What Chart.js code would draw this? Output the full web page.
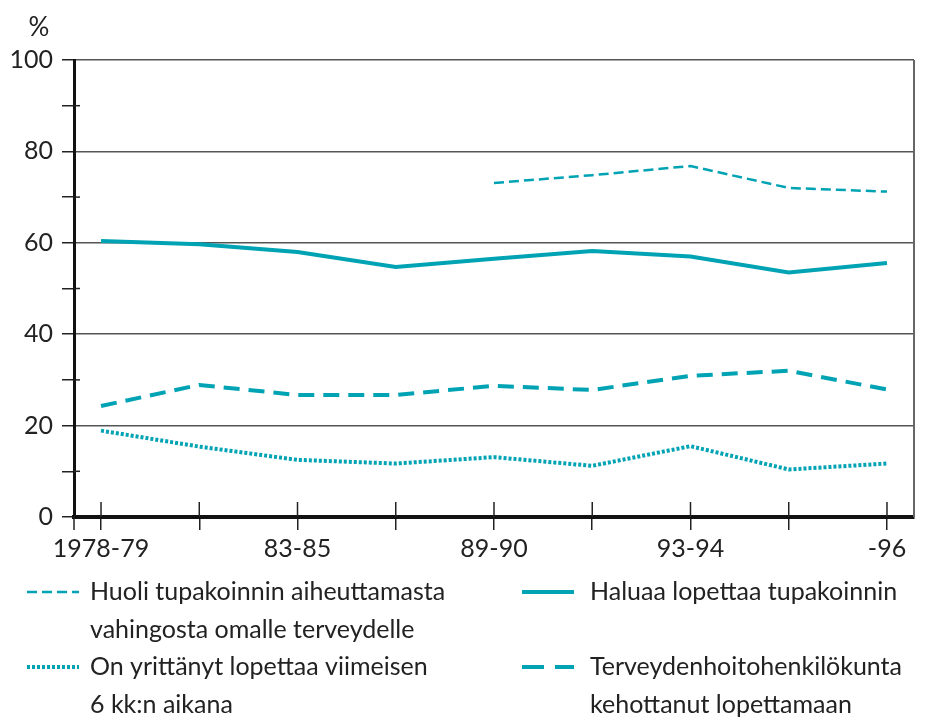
<!DOCTYPE html>
<html>
<head>
<meta charset="utf-8">
<script src="https://cdn.jsdelivr.net/npm/chart.js@4"></script>
<style>
  html, body { margin: 0; padding: 0; background: #fff; }
  #wrap { width: 929px; height: 720px; position: relative; }
</style>
</head>
<body>
<div id="wrap"><canvas id="c" width="929" height="720"></canvas></div>
<script>
const categories = ['1978-79', '', '83-85', '', '89-90', '', '93-94', '', '-96'];
const huoli      = [null, null, null, null, 73.1, 74.8, 76.8, 72.0, 71.2];
const haluaa     = [60.4, 59.7, 58.0, 54.7, 56.5, 58.2, 57.0, 53.5, 55.6];
const yrittanyt  = [18.9, 15.4, 12.5, 11.7, 13.1, 11.2, 15.5, 10.4, 11.7];
const kehottanut = [24.3, 28.9, 26.7, 26.7, 28.7, 27.8, 30.9, 32.0, 27.9];
const yAxisTitle = '%';
const legendItems = [
  { lines: ['Huoli tupakoinnin aiheuttamasta', 'vahingosta omalle terveydelle'], style: 'thinDash' },
  { lines: ['Haluaa lopettaa tupakoinnin'], style: 'solid' },
  { lines: ['On yrittänyt lopettaa viimeisen', '6 kk:n aikana'], style: 'dot' },
  { lines: ['Terveydenhoitohenkilökunta', 'kehottanut lopettamaan'], style: 'thickDash' }
];

const TEAL = '#00a3b3';
const FONT = 'Lato, "Open Sans", sans-serif';
const toPts = arr => arr.map((v, i) => ({ x: i, y: v }));

const styles = {
  thinDash:  { width: 2.5, dash: [10, 5] },
  solid:     { width: 4,   dash: [] },
  dot:       { width: 4,   dash: [3, 2] },
  thickDash: { width: 4,   dash: [16, 9] }
};

const extras = {
  id: 'extras',
  afterDraw(chart) {
    const ctx = chart.ctx;
    const ca = chart.chartArea;
    const xs = chart.scales.x, ys = chart.scales.y;
    ctx.save();
    // right border
    ctx.strokeStyle = '#666';
    ctx.lineWidth = 2;
    ctx.beginPath();
    ctx.moveTo(ca.right, ca.top);
    ctx.lineTo(ca.right, ca.bottom);
    ctx.stroke();
    // inner parts of y minor ticks
    ctx.strokeStyle = '#222';
    ctx.lineWidth = 1.5;
    for (let v = 10; v < 100; v += 20) {
      const y = ys.getPixelForValue(v);
      ctx.beginPath();
      ctx.moveTo(ca.left, y);
      ctx.lineTo(ca.left + 6, y);
      ctx.stroke();
    }
    // upper parts of x ticks
    categories.forEach((c, i) => {
      const x = xs.getPixelForValue(i);
      ctx.beginPath();
      ctx.moveTo(x, ca.bottom);
      ctx.lineTo(x, ca.bottom - 15);
      ctx.stroke();
    });
    // y axis extension below x axis
    ctx.beginPath();
    ctx.moveTo(ca.left, ca.bottom);
    ctx.lineTo(ca.left, ca.bottom + 13);
    ctx.stroke();
    // % title
    ctx.fillStyle = '#222';
    ctx.font = '26px ' + FONT;
    ctx.textAlign = 'center';
    ctx.textBaseline = 'middle';
    ctx.fillText(yAxisTitle, 39, 28);
    // legend
    const cols = [27, 522];
    const rows = [592, 667];
    ctx.font = '25px ' + FONT;
    ctx.textAlign = 'left';
    legendItems.forEach((item, k) => {
      const cx = cols[k % 2];
      const cy = rows[Math.floor(k / 2)];
      const st = styles[item.style];
      ctx.strokeStyle = TEAL;
      ctx.lineWidth = st.width;
      ctx.setLineDash(item.style === 'thickDash' ? [22, 11] : st.dash);
      ctx.beginPath();
      ctx.moveTo(cx, cy);
      ctx.lineTo(cx + 52, cy);
      ctx.stroke();
      ctx.setLineDash([]);
      item.lines.forEach((t, j) => {
        ctx.fillText(t, cx + 63 + (k % 2 ? 5 : 0), cy + j * 38);
      });
    });
    ctx.restore();
  }
};

new Chart(document.getElementById('c'), {
  type: 'line',
  data: {
    datasets: [
      { label: legendItems[0].lines.join(' '), data: toPts(huoli), borderColor: TEAL, borderWidth: styles.thinDash.width, borderDash: styles.thinDash.dash, pointRadius: 0, fill: false, tension: 0 },
      { label: legendItems[1].lines.join(' '), data: toPts(haluaa), borderColor: TEAL, borderWidth: styles.solid.width, pointRadius: 0, fill: false, tension: 0 },
      { label: legendItems[2].lines.join(' '), data: toPts(yrittanyt), borderColor: TEAL, borderWidth: styles.dot.width, borderDash: styles.dot.dash, pointRadius: 0, fill: false, tension: 0 },
      { label: legendItems[3].lines.join(' '), data: toPts(kehottanut), borderColor: TEAL, borderWidth: styles.thickDash.width, borderDash: styles.thickDash.dash, pointRadius: 0, fill: false, tension: 0 }
    ]
  },
  options: {
    responsive: false,
    animation: false,
    layout: { padding: { left: 0, top: 60, right: 15, bottom: 0 } },
    plugins: { legend: { display: false }, tooltip: { enabled: false } },
    scales: {
      x: {
        type: 'linear',
        min: -0.275,
        max: 8.275,
        afterBuildTicks: s => { s.ticks = categories.map((c, i) => ({ value: i })); },
        afterFit: s => { s.height = 203; },
        ticks: {
          autoSkip: false,
          maxRotation: 0,
          padding: 4,
          color: '#222',
          font: { family: FONT, size: 25 },
          callback: v => categories[v]
        },
        grid: { drawOnChartArea: false, drawTicks: true, tickLength: 13, color: '#222', lineWidth: 1.5 },
        border: { display: true, color: '#111', width: 4 }
      },
      y: {
        min: 0,
        max: 100,
        afterFit: s => { s.width = 74; },
        ticks: {
          stepSize: 10,
          padding: 9,
          color: '#222',
          font: { family: FONT, size: 25 },
          callback: v => (v % 20 === 0 ? v : '')
        },
        grid: {
          color: c => (c.tick && c.tick.value % 20 === 0 && c.tick.value !== 0 ? '#555' : 'rgba(0,0,0,0)'),
          tickColor: '#222',
          lineWidth: 1.5,
          tickLength: 12
        },
        border: { display: true, color: '#111', width: 3 }
      }
    }
  },
  plugins: [extras]
});
</script>
</body>
</html>
